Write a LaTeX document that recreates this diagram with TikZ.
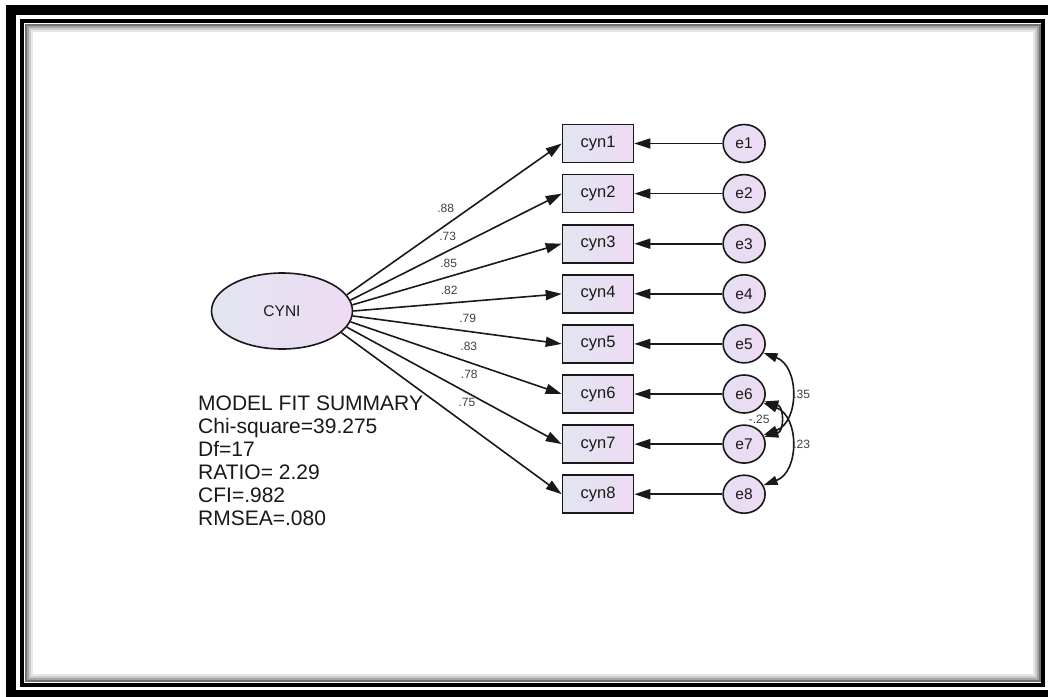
\documentclass[tikz,border=0pt]{standalone}
\usepackage{fontspec}
\setmainfont{Liberation Sans}
\usetikzlibrary{positioning,arrows.meta,shapes.geometric}
\definecolor{figink}{gray}{0.10}
\definecolor{figtext}{gray}{0.25}
\definecolor{boxleft}{RGB}{226,229,240}
\definecolor{boxright}{RGB}{238,219,243}
\definecolor{errleft}{RGB}{229,223,242}
\definecolor{errright}{RGB}{238,219,243}
\tikzset{
  fig/.style={font=\fontsize{16.5}{18}\selectfont},
  obsbox/.style={draw=figink,line width=1.6pt,minimum width=71pt,minimum height=38pt,
                 inner sep=2pt,left color=boxleft,right color=boxright,text=figink},
  latent/.style={ellipse,draw=figink,line width=1.6pt,minimum width=141pt,minimum height=76pt,
                 inner sep=0pt,left color=boxleft,right color=boxright,text=figink,
                 font=\fontsize{15.5}{17}\selectfont},
  errnode/.style={ellipse,draw=figink,line width=1.6pt,minimum width=42pt,minimum height=38pt,
                  inner sep=0pt,left color=errleft,right color=errright,text=figink,
                  font=\fontsize{15.5}{17}\selectfont},
  ln/.style={-{Triangle[length=16pt,width=10pt]},line width=1.6pt,figink},
  lnb/.style={{Triangle[length=14pt,width=9pt]}-{Triangle[length=14pt,width=9pt]},line width=1.6pt,figink},
  lbl/.style={font=\fontsize{12}{13}\selectfont,text=figtext,inner sep=0pt},
}

\begin{document}
\begin{tikzpicture}[fig,x=1pt,y=-1pt]

\useasboundingbox (0,0) rectangle (1048,696);
\clip (0,0) rectangle (1048,696);
\fill[white] (0,0) rectangle (1048,696);

% picture frame with inner shadow
\draw[line width=10pt] (11,10) rectangle (1058,695);
\draw[line width=4pt] (22,21) rectangle (1043,684.5);
\foreach \d/\c in {3.5/55,5.5/35,7.5/20,9.5/9}
  \draw[black!\c,line width=2pt] (22+\d,21+\d) rectangle (1043-\d,684.5-\d);

\node[latent] (cyni) at (282,311) {CYNI};

\node[obsbox] (cyn1) at (598,143.5) {cyn1};
\node[obsbox,below=10.5pt of cyn1] (cyn2) {cyn2};
\node[obsbox,below=10.5pt of cyn2] (cyn3) {cyn3};
\node[obsbox,below=10.5pt of cyn3] (cyn4) {cyn4};
\node[obsbox,below=10.5pt of cyn4] (cyn5) {cyn5};
\node[obsbox,below=10.5pt of cyn5] (cyn6) {cyn6};
\node[obsbox,below=10.5pt of cyn6] (cyn7) {cyn7};
\node[obsbox,below=10.5pt of cyn7] (cyn8) {cyn8};

\node[errnode,right=88pt of cyn1] (e1) {e1};
\node[errnode,right=88pt of cyn2] (e2) {e2};
\node[errnode,right=88pt of cyn3] (e3) {e3};
\node[errnode,right=88pt of cyn4] (e4) {e4};
\node[errnode,right=88pt of cyn5] (e5) {e5};
\node[errnode,right=88pt of cyn6] (e6) {e6};
\node[errnode,right=88pt of cyn7] (e7) {e7};
\node[errnode,right=88pt of cyn8] (e8) {e8};

% loadings
\draw[ln] (cyni.14)   -- node[lbl,pos=.46,above=11.5pt]{.88} (cyn1.west);
\draw[ln] (cyni.9.5)  -- node[lbl,pos=.46,above=10pt]{.73} (cyn2.west);
\draw[ln] (cyni.5)    -- node[lbl,pos=.46,above=8.5pt]{.85} (cyn3.west);
\draw[ln] (cyni.0.5)  -- node[lbl,pos=.46,above=8pt]{.82} (cyn4.west);
\draw[ln] (cyni.-4)   -- node[lbl,pos=.55,above=7.5pt]{.79} (cyn5.west);
\draw[ln] (cyni.-9)   -- node[lbl,pos=.56,above=11pt]{.83} (cyn6.west);
\draw[ln] (cyni.-14.5) -- node[lbl,pos=.57,above=14.5pt]{.78} (cyn7.west);
\draw[ln] (cyni.-20)  -- node[lbl,pos=.57,above=17.5pt]{.75} (cyn8.west);

% error terms
\draw[ln] (e1) -- (cyn1);
\draw[ln] (e2) -- (cyn2);
\draw[ln] (e3) -- (cyn3);
\draw[ln] (e4) -- (cyn4);
\draw[ln] (e5) -- (cyn5);
\draw[ln] (e6) -- (cyn6);
\draw[ln] (e7) -- (cyn7);
\draw[ln] (e8) -- (cyn8);

% correlated errors
\draw[lnb] (e5.-25) to[out=-20,in=20,looseness=1.2] node[lbl,right=2pt]{.35} (e7.25);
\draw[lnb] (e6.-25) to[out=-20,in=20,looseness=1.2] node[lbl,right=2pt]{.23} (e8.25);
\draw[lnb] (e6.-20) to[out=-15,in=15,looseness=1.5] node[lbl,left=9pt]{-.25} (e7.20);

\node[anchor=north west,align=left,inner sep=0pt,text=figink,
      font=\fontsize{21}{23}\selectfont] (fit) at (198,396)
  {MODEL FIT SUMMARY\\Chi-square=39.275\\Df=17\\RATIO= 2.29\\CFI=.982\\RMSEA=.080};

\end{tikzpicture}
\end{document}
